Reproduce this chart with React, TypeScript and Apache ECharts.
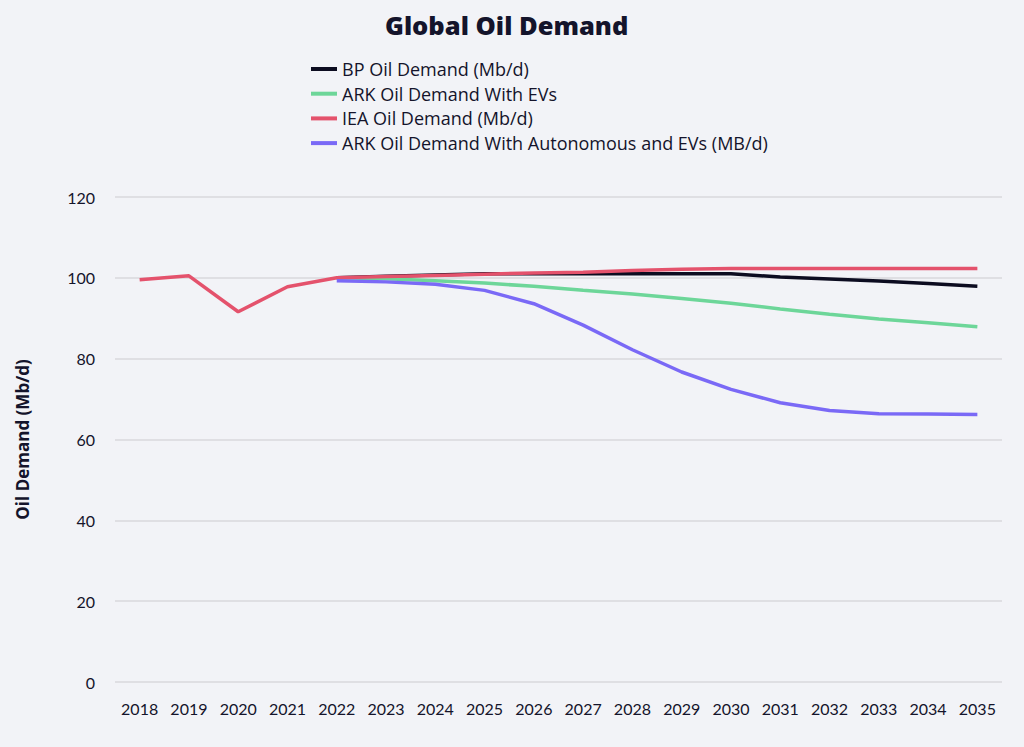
import React, { useEffect, useRef } from "react";
import * as echarts from "echarts";

const years = ["2018","2019","2020","2021","2022","2023","2024","2025","2026","2027","2028","2029","2030","2031","2032","2033","2034","2035"];
const bpDemand = [null, null, null, null, 100.0, 100.4, 100.7, 101.0, 101.0, 101.0, 101.0, 101.0, 101.0, 100.2, 99.7, 99.2, 98.6, 97.9];
const arkEv = [null, null, null, null, 100.0, 99.8, 99.3, 98.7, 97.9, 96.9, 96.0, 94.9, 93.7, 92.3, 91.0, 89.8, 88.9, 87.9];
const ieaDemand = [99.5, 100.5, 91.6, 97.8, 100.0, 100.3, 100.6, 100.9, 101.2, 101.4, 101.8, 102.1, 102.3, 102.3, 102.3, 102.3, 102.3, 102.3];
const arkAuto = [null, null, null, null, 99.3, 99.0, 98.4, 96.9, 93.6, 88.3, 82.2, 76.7, 72.4, 69.1, 67.2, 66.4, 66.3, 66.2];
const yTicks = { min: 0, max: 120, interval: 20 };

const TXT = "#14142b";
const FONT = "Lato";
const WIDE = "Open Sans";

export default function App() {
  const ref = useRef<HTMLDivElement>(null);
  useEffect(() => {
    if (!ref.current) return;
    const chart = echarts.init(ref.current, null, { renderer: "svg" });
    const mk = (name: string, data: any[], color: string) => ({
      name,
      type: "line",
      data,
      symbol: "none",
      connectNulls: false,
      lineStyle: { color, width: 3.5 },
      itemStyle: { color },
    });
    chart.setOption({
      animation: false,
      backgroundColor: "#f2f3f7",
      textStyle: { fontFamily: FONT, color: TXT },
      title: {
        text: "Global Oil Demand",
        left: 380,
        top: 7,
        textStyle: { fontFamily: WIDE, fontSize: 25.5, fontWeight: 800, color: TXT },
      },
      legend: {
        orient: "vertical",
        left: 306,
        top: 55,
        itemWidth: 26,
        itemHeight: 4,
        itemGap: 6.7,
        icon: "rect",
        textStyle: { fontFamily: WIDE, fontSize: 18, color: TXT },
        data: [
          "BP Oil Demand (Mb/d)",
          "ARK Oil Demand With EVs",
          "IEA Oil Demand (Mb/d)",
          "ARK Oil Demand With Autonomous and EVs (MB/d)",
        ],
      },
      grid: { left: 115, right: 22, top: 197, bottom: 65, containLabel: false },
      xAxis: {
        type: "category",
        data: years,
        boundaryGap: true,
        axisLine: { show: false },
        axisTick: { show: false },
        axisLabel: { fontFamily: FONT, fontSize: 16, color: TXT, margin: 18 },
      },
      yAxis: {
        type: "value",
        min: yTicks.min,
        max: yTicks.max,
        interval: yTicks.interval,
        name: "Oil Demand (Mb/d)",
        nameLocation: "middle",
        nameRotate: 90,
        nameGap: 84,
        nameTextStyle: { fontFamily: WIDE, fontSize: 17, fontWeight: "bold", color: TXT },
        axisLine: { show: false },
        axisTick: { show: false },
        axisLabel: { fontFamily: FONT, fontSize: 16, color: TXT, margin: 20 },
        splitLine: { lineStyle: { color: "#d8d8dc", width: 1.5 } },
      },
      series: [
        mk("BP Oil Demand (Mb/d)", bpDemand, "#0c0c20"),
        mk("ARK Oil Demand With EVs", arkEv, "#6dd699"),
        mk("IEA Oil Demand (Mb/d)", ieaDemand, "#e4526c"),
        mk("ARK Oil Demand With Autonomous and EVs (MB/d)", arkAuto, "#7a69f6"),
      ],
    });
    return () => chart.dispose();
  }, []);
  return (
    <div
      ref={ref}
      style={{ position: "fixed", left: 0, top: 0, width: 1024, height: 747, background: "#f2f3f7" }}
    />
  );
}
